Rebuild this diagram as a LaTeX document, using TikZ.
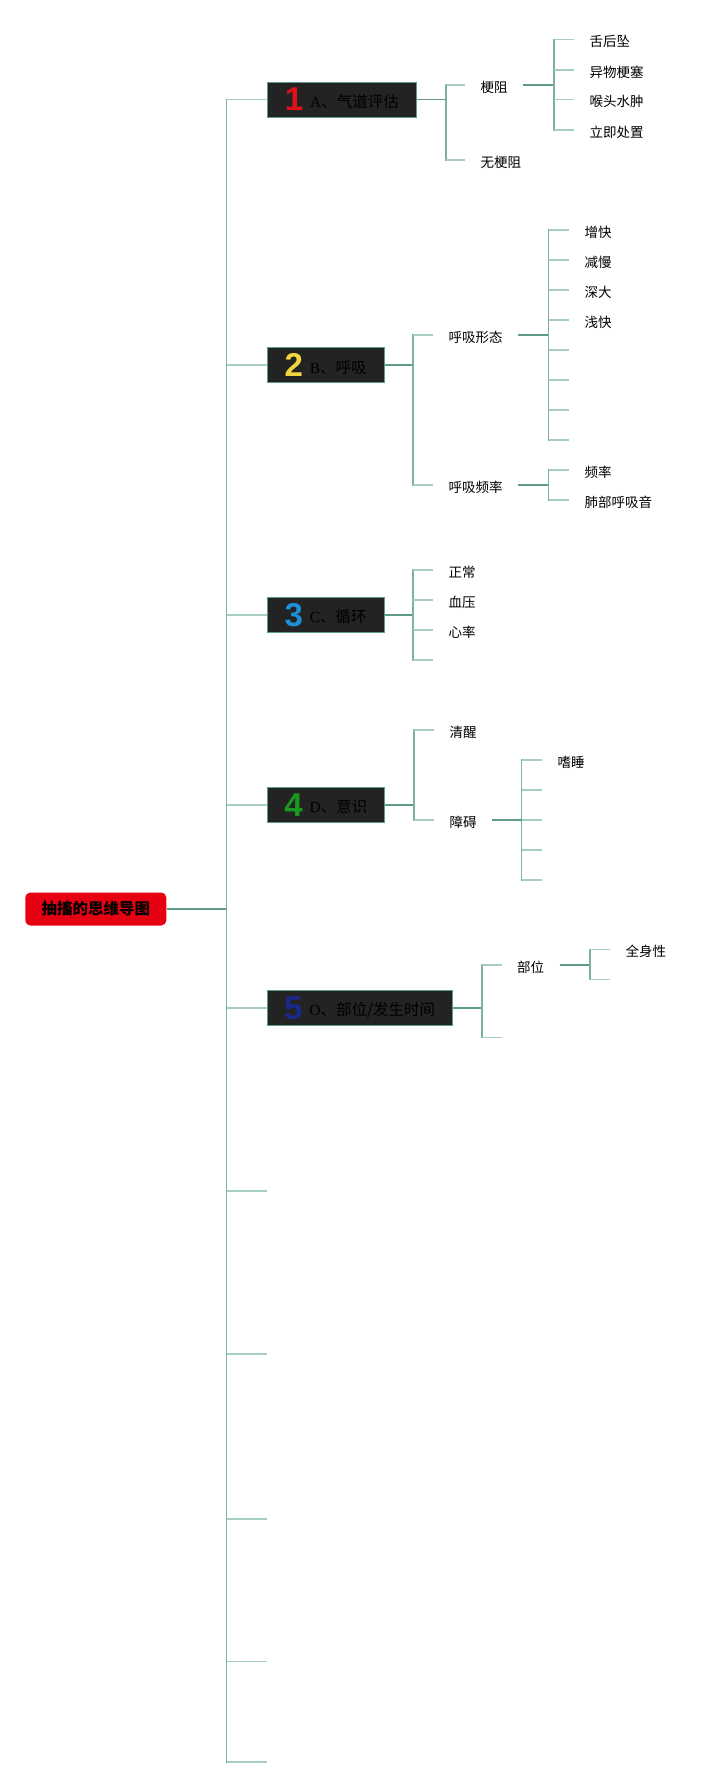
\documentclass[tikz,border=0pt]{standalone}
\usepackage{fontspec}
\setmainfont{Noto Sans CJK SC}
\newfontfamily\latn{Liberation Serif}
\newfontfamily\digf{Liberation Sans}
\usetikzlibrary{positioning, calc}
\definecolor{vermelho}{HTML}{E60012}
\definecolor{caixa}{HTML}{232323}
\definecolor{linhaesc}{HTML}{5E9B88}
\definecolor{linhamed}{HTML}{7DB0A0}
\definecolor{linhacla}{HTML}{A6CDC1}
\definecolor{cor1}{HTML}{E0101B}
\definecolor{cor2}{HTML}{F2D43C}
\definecolor{cor3}{HTML}{1C8FD8}
\definecolor{cor4}{HTML}{179A1E}
\definecolor{cor5}{HTML}{1A2A8C}
\tikzset{
  rz/.style = {rectangle, rounded corners=5pt, fill=vermelho, text=black,
    inner sep=0pt, minimum width=141pt, minimum height=33pt,
    font=\fontsize{15.5}{18}\selectfont\bfseries},
  cx/.style = {rectangle, anchor=west, draw=linhaesc, fill=caixa, text=black,
    inner sep=0pt, minimum height=35pt, line width=0.8pt,
    font=\fontsize{15.5}{18}\selectfont},
  fo/.style = {anchor=west, inner xsep=15.5pt, inner ysep=1pt, text=black,
    text height=15pt, text depth=1pt, font=\fontsize{13.5}{16}\selectfont},
  le/.style = {draw=linhaesc, line width=1.8pt},
  lm/.style = {draw=linhamed, line width=1.8pt, line cap=rect},
  lc/.style = {draw=linhacla, line width=1.8pt}
}
\newcommand{\numcx}[3]{{\digf\fontsize{33}{33}\selectfont\bfseries\color{#1}#2}\hspace{7pt}\raisebox{3.5pt}{#3}}

\begin{document}
\begin{tikzpicture}[x=1pt, y=-1pt]
  \useasboundingbox (0,0) rectangle (727,1788);

  \node [rz] (raiz) at (95.8,909) {抽搐的思维导图};
  \node [cx, minimum width=149pt] (a) at (267,99.5) {\numcx{cor1}{1}{{\latn A}、气道评估}};
  \node [cx, minimum width=116.5pt] (b) at (267,365) {\numcx{cor2}{2}{{\latn B}、呼吸}};
  \node [cx, minimum width=116.5pt] (c) at (267,615) {\numcx{cor3}{3}{{\latn C}、循环}};
  \node [cx, minimum width=117pt] (d) at (267,805) {\numcx{cor4}{4}{{\latn D}、意识}};
  \node [cx, minimum width=184.5pt] (e) at (267,1008) {\numcx{cor5}{5}{{\latn O}、部位/发生时间}};

  \coordinate (sp) at (226.5,909);
  \coordinate (v1) at (266.7,1191);
  \coordinate (v2) at (266.7,1354);
  \coordinate (v3) at (266.7,1519);
  \coordinate (v4) at (266.7,1661.5);
  \coordinate (v5) at (266.7,1762);
  \draw [le] (raiz.east) -- (sp);
  \draw [lm] (sp |- a.west) -- (sp |- v5);
  \foreach \n in {a,b,c,d,e}
    \draw [lc] (sp |- \n.west) -- (\n.west);
  \foreach \n in {v1,v2,v3,v4,v5}
    \draw [lc] (sp |- \n) -- (\n);

  \coordinate (ja) at (446,99.5);
  \node [fo] (a1) at (465,85) {梗阻};
  \node [fo] (a2) at (465,160) {无梗阻};
  \draw [le] (a.east) -- (ja);
  \draw [lm] (ja |- a1.west) -- (ja |- a2.west);
  \foreach \n in {a1,a2}
    \draw [lc] (ja |- \n.west) -- (\n.west);

  \coordinate (ja1) at (554,85);
  \node [fo] (a11) at (574,39.5) {舌后坠};
  \node [fo] (a12) at (574,70) {异物梗塞};
  \node [fo] (a13) at (574,99.5) {喉头水肿};
  \node [fo] (a14) at (574,130) {立即处置};
  \draw [le] (a1.east) -- (ja1);
  \draw [lm] (ja1 |- a11.west) -- (ja1 |- a14.west);
  \foreach \n in {a11,a12,a13,a14}
    \draw [lc] (ja1 |- \n.west) -- (\n.west);

  \coordinate (jb) at (413,365);
  \node [fo] (b1) at (433,335) {呼吸形态};
  \node [fo] (b2) at (433,485) {呼吸频率};
  \draw [le] (b.east) -- (jb);
  \draw [lm] (jb |- b1.west) -- (jb |- b2.west);
  \foreach \n in {b1,b2}
    \draw [lc] (jb |- \n.west) -- (\n.west);

  \coordinate (jb1) at (548.5,335);
  \node [fo] (b11) at (569,230) {增快};
  \node [fo] (b12) at (569,260) {减慢};
  \node [fo] (b13) at (569,290) {深大};
  \node [fo] (b14) at (569,320) {浅快};
  \coordinate (b15) at (569,350);
  \coordinate (b16) at (569,380);
  \coordinate (b17) at (569,410);
  \coordinate (b18) at (569,440);
  \draw [le] (b1.east) -- (jb1);
  \draw [lm] (jb1 |- b11.west) -- (jb1 |- b18);
  \foreach \n in {b11,b12,b13,b14}
    \draw [lc] (jb1 |- \n.west) -- (\n.west);
  \foreach \n in {b15,b16,b17,b18}
    \draw [lc] (jb1 |- \n) -- (\n);

  \coordinate (jb2) at (548.5,485);
  \node [fo] (b21) at (569,470) {频率};
  \node [fo] (b22) at (569,500) {肺部呼吸音};
  \draw [le] (b2.east) -- (jb2);
  \draw [lm] (jb2 |- b21.west) -- (jb2 |- b22.west);
  \foreach \n in {b21,b22}
    \draw [lc] (jb2 |- \n.west) -- (\n.west);

  \coordinate (jc) at (413,615);
  \node [fo] (c1) at (433,570) {正常};
  \node [fo] (c2) at (433,600) {血压};
  \node [fo] (c3) at (433,630) {心率};
  \coordinate (c4) at (433,660);
  \draw [le] (c.east) -- (jc);
  \draw [lm] (jc |- c1.west) -- (jc |- c4);
  \foreach \n in {c1,c2,c3}
    \draw [lc] (jc |- \n.west) -- (\n.west);
  \draw [lc] (jc |- c4) -- (c4);

  \coordinate (jd) at (414,805);
  \node [fo] (d1) at (434,730) {清醒};
  \node [fo] (d2) at (434,820) {障碍};
  \draw [le] (d.east) -- (jd);
  \draw [lm] (jd |- d1.west) -- (jd |- d2.west);
  \foreach \n in {d1,d2}
    \draw [lc] (jd |- \n.west) -- (\n.west);

  \coordinate (jd2) at (521.5,820);
  \node [fo] (d21) at (542,760) {嗜睡};
  \coordinate (d22) at (542,790);
  \coordinate (d23) at (542,820);
  \coordinate (d24) at (542,850);
  \coordinate (d25) at (542,880);
  \draw [lm] (jd2 |- d21.west) -- (jd2 |- d25);
  \draw [lc] (jd2 |- d21.west) -- (d21.west);
  \foreach \n in {d22,d23,d24,d25}
    \draw [lc] (jd2 |- \n) -- (\n);
  \draw [le] (d2.east) -- (jd2);

  \coordinate (je) at (482,1008);
  \node [fo] (e1) at (501.5,965) {部位};
  \coordinate (e2) at (501.5,1037.5);
  \draw [le] (e.east) -- (je);
  \draw [lm] (je |- e1.west) -- (je |- e2);
  \draw [lc] (je |- e1.west) -- (e1.west);
  \draw [lc] (je |- e2) -- (e2);

  \coordinate (je1) at (590,965);
  \node [fo] (e11) at (610,949.5) {全身性};
  \coordinate (e12) at (610,979.5);
  \draw [le] (e1.east) -- (je1);
  \draw [lm] (je1 |- e11.west) -- (je1 |- e12);
  \draw [lc] (je1 |- e11.west) -- (e11.west);
  \draw [lc] (je1 |- e12) -- (e12);
\end{tikzpicture}
\end{document}
